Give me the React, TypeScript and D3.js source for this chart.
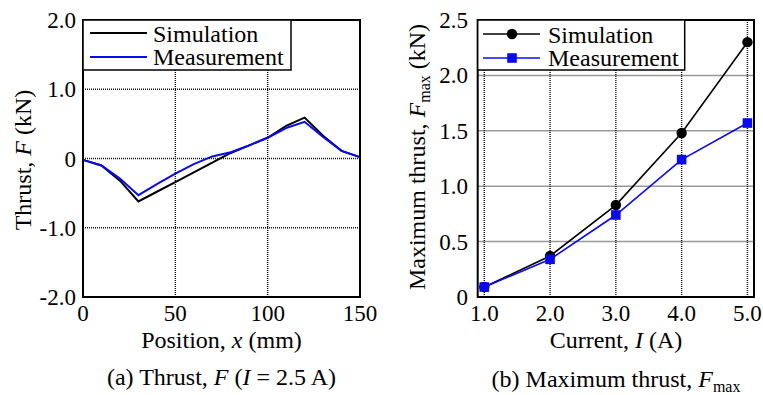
import React from "react";
import * as d3 from "d3";

// (a) thrust vs position
const positions = [0, 10, 20, 30, 40, 50, 60, 70, 80, 90, 100, 110, 120, 130, 140, 150];
const thrustSim = [-0.02, -0.1, -0.32, -0.62, -0.48, -0.34, -0.2, -0.06, 0.08, 0.19, 0.3, 0.47, 0.59, 0.33, 0.11, 0.02];
const thrustMeas = [-0.02, -0.1, -0.29, -0.53, -0.37, -0.22, -0.08, 0.03, 0.09, 0.19, 0.3, 0.44, 0.53, 0.31, 0.11, 0.02];
const posTicks = [0, 50, 100, 150];
const thrustTicks = [2, 1, 0, -1, -2];
const thrustTickLabels = ["2.0", "1.0", "0", "-1.0", "-2.0"];

// (b) max thrust vs current
const currents = [1, 2, 3, 4, 5];
const maxSim = [0.09, 0.37, 0.83, 1.48, 2.3];
const maxMeas = [0.09, 0.34, 0.74, 1.24, 1.57];
const currentTickLabels = ["1.0", "2.0", "3.0", "4.0", "5.0"];
const maxTicks = [0, 0.5, 1, 1.5, 2, 2.5];
const maxTickLabels = ["0", "0.5", "1.0", "1.5", "2.0", "2.5"];

const seriesNames = ["Simulation", "Measurement"];
const BLUE = "#0a0af0";
const FONT = "'Liberation Serif', 'Times New Roman', serif";

const top = 20;
const bottom = 297;

export default function App() {
  // left panel scales
  const xa = d3.scaleLinear().domain([0, 150]).range([83, 360]);
  const ya = d3.scaleLinear().domain([-2, 2]).range([bottom, top]);
  // right panel scales
  const xb = d3.scaleLinear().domain([0.9, 5.1]).range([477.7, 754]);
  const yb = d3.scaleLinear().domain([0, 2.5]).range([bottom, top]);

  const lineA = (vals: number[]) =>
    d3.line<number>().x((_, i) => xa(positions[i])).y((d) => ya(d))(vals) || "";
  const lineB = (vals: number[]) =>
    d3.line<number>().x((_, i) => xb(currents[i])).y((d) => yb(d))(vals) || "";

  const dotted = { stroke: "#111", strokeWidth: 1.4, strokeDasharray: "1 1" };

  return (
    <svg width={763} height={395} style={{ position: "absolute", left: 0, top: 0, fontFamily: FONT }}>
      <rect width={763} height={395} fill="#fff" />

      {/* ---------- panel (a) ---------- */}
      <g>
        {[50, 100].map((t) => (
          <line key={t} x1={xa(t)} x2={xa(t)} y1={top} y2={bottom} {...dotted} />
        ))}
        {[1, 0, -1].map((t) => (
          <line key={t} x1={xa(0)} x2={xa(150)} y1={ya(t)} y2={ya(t)} {...dotted} />
        ))}
        <path d={lineA(thrustSim)} fill="none" stroke="#000" strokeWidth={2} />
        <path d={lineA(thrustMeas)} fill="none" stroke={BLUE} strokeWidth={2} />
        <rect x={xa(0)} y={top} width={xa(150) - xa(0)} height={bottom - top} fill="none" stroke="#000" strokeWidth={2} />

        {posTicks.map((t) => (
          <text key={t} x={xa(t)} y={321} fontSize={23} textAnchor="middle">{t}</text>
        ))}
        {thrustTicks.map((t, i) => (
          <text key={t} x={76} y={ya(t) + 8} fontSize={23} textAnchor="end">{thrustTickLabels[i]}</text>
        ))}

        {/* legend */}
        <rect x={83} y={20} width={208} height={50} fill="#fff" stroke="#000" strokeWidth={1.5} />
        <line x1={90} x2={147} y1={33} y2={33} stroke="#000" strokeWidth={2} />
        <line x1={90} x2={147} y1={57} y2={57} stroke={BLUE} strokeWidth={2} />
        <text x={153} y={41.5} fontSize={24}>{seriesNames[0]}</text>
        <text x={153} y={65} fontSize={24}>{seriesNames[1]}</text>

        <text x={221.5} y={348} fontSize={24} textAnchor="middle">
          Position, <tspan fontStyle="italic">x</tspan> (mm)
        </text>
        <text transform="translate(31,160) rotate(-90)" fontSize={24} textAnchor="middle">
          Thrust, <tspan fontStyle="italic">F</tspan> (kN)
        </text>
        <text x={221.5} y={385} fontSize={24} textAnchor="middle">
          (a) Thrust, <tspan fontStyle="italic">F</tspan> (<tspan fontStyle="italic">I</tspan> = 2.5 A)
        </text>
      </g>

      {/* ---------- panel (b) ---------- */}
      <g>
        {maxTicks.slice(1, 5).map((t) => (
          <line key={t} x1={xb(0.9)} x2={xb(5.1)} y1={yb(t)} y2={yb(t)} stroke="#999" strokeWidth={1.5} />
        ))}
        {currents.map((t) => (
          <line key={t} x1={xb(t)} x2={xb(t)} y1={top} y2={bottom} {...dotted} />
        ))}
        <path d={lineB(maxSim)} fill="none" stroke="#000" strokeWidth={1.6} />
        <path d={lineB(maxMeas)} fill="none" stroke={BLUE} strokeWidth={1.6} />
        {maxSim.map((v, i) => (
          <circle key={i} cx={xb(currents[i])} cy={yb(v)} r={5.2} fill="#000" />
        ))}
        {maxMeas.map((v, i) => (
          <rect key={i} x={xb(currents[i]) - 4.8} y={yb(v) - 4.8} width={9.6} height={9.6} fill={BLUE} />
        ))}
        <rect x={xb(0.9)} y={top} width={xb(5.1) - xb(0.9)} height={bottom - top} fill="none" stroke="#000" strokeWidth={2} />

        {currents.map((t, i) => (
          <text key={t} x={xb(t)} y={321} fontSize={23} textAnchor="middle">{currentTickLabels[i]}</text>
        ))}
        {maxTicks.map((t, i) => (
          <text key={t} x={468} y={yb(t) + 8} fontSize={23} textAnchor="end">{maxTickLabels[i]}</text>
        ))}

        {/* legend */}
        <rect x={477.7} y={20} width={207} height={50} fill="#fff" stroke="#000" strokeWidth={1.5} />
        <line x1={483} x2={540} y1={34} y2={34} stroke="#000" strokeWidth={1.6} />
        <circle cx={512} cy={34} r={5.2} fill="#000" />
        <line x1={483} x2={540} y1={58} y2={58} stroke={BLUE} strokeWidth={1.6} />
        <rect x={507.2} y={53.2} width={9.6} height={9.6} fill={BLUE} />
        <text x={548} y={42.5} fontSize={24}>{seriesNames[0]}</text>
        <text x={548} y={66} fontSize={24}>{seriesNames[1]}</text>

        <text x={616} y={348} fontSize={24} textAnchor="middle">
          Current, <tspan fontStyle="italic">I</tspan> (A)
        </text>
        <text transform="translate(425,157) rotate(-90)" fontSize={24} textAnchor="middle">
          Maximum thrust, <tspan fontStyle="italic">F</tspan>
          <tspan fontSize={16} dy={5}>max</tspan>
          <tspan dy={-5}> (kN)</tspan>
        </text>
        <text x={616} y={387} fontSize={24} textAnchor="middle">
          (b) Maximum thrust, <tspan fontStyle="italic">F</tspan>
          <tspan fontSize={16} dy={5}>max</tspan>
        </text>
      </g>
    </svg>
  );
}
